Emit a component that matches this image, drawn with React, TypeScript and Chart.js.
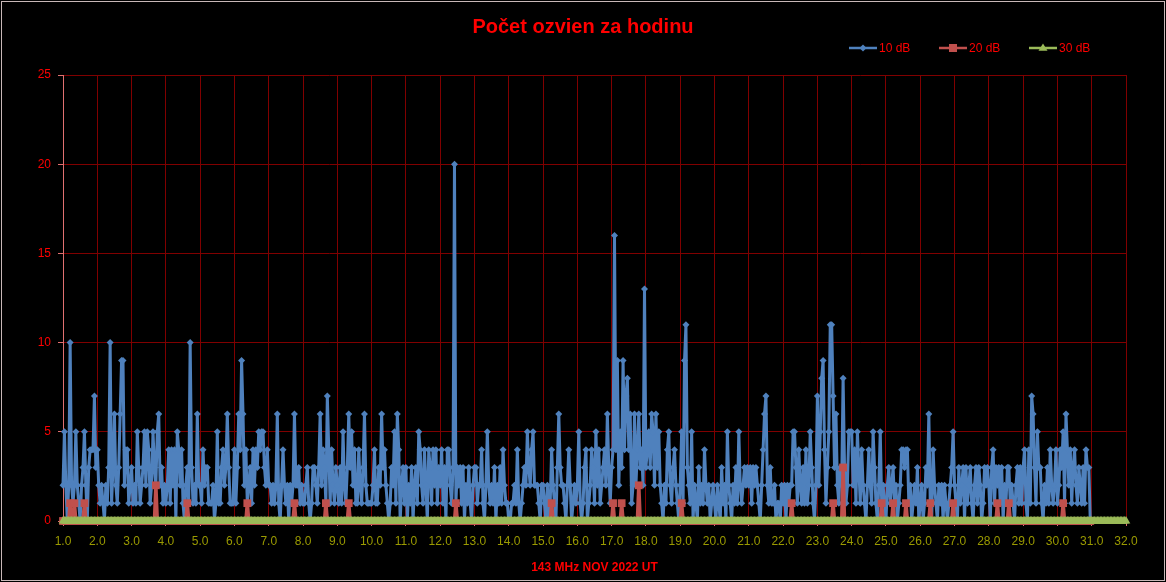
import React, { useEffect, useRef } from "react";
import { Chart, registerables } from "chart.js";

Chart.register(...registerables);

const FONT = "'Liberation Sans', Arial, sans-serif";

const chartTitle = "Počet ozvien za hodinu";
const xAxisTitle = "143 MHz NOV 2022 UT";
const seriesNames = ["10 dB", "20 dB", "30 dB"];
const seriesColors = ["#4f81bd", "#c0504d", "#9bbb59"];
const xRange = [1, 32];
const yRange = [0, 25];
const yStep = 5;
const xStep = 1;
const hoursPerDay = 24;

// hourly echo counts, 10 dB, one row per day (1.0 .. 30.96)
const echo10dB = [
  2, 5, 2, 0, 2, 10, 2, 1, 2, 5, 2, 1, 0, 2, 3, 5, 2, 0, 3, 4, 4, 4, 7, 3,
  4, 2, 1, 2, 1, 0, 2, 1, 3, 10, 1, 3, 6, 2, 1, 3, 6, 9, 9, 2, 4, 4, 1, 2,
  3, 1, 2, 1, 5, 3, 1, 2, 3, 5, 2, 5, 4, 1, 2, 5, 3, 2, 5, 6, 2, 3, 1, 2,
  1, 2, 4, 1, 4, 2, 4, 0, 5, 4, 2, 4, 1, 0, 2, 3, 1, 10, 3, 1, 2, 1, 6, 2,
  2, 1, 4, 2, 3, 3, 1, 1, 1, 2, 0, 1, 5, 1, 1, 3, 4, 2, 3, 6, 3, 1, 1, 1,
  4, 1, 3, 6, 4, 9, 6, 2, 4, 1, 2, 3, 1, 4, 2, 4, 3, 5, 4, 5, 5, 3, 2, 4,
  2, 2, 1, 2, 1, 2, 6, 1, 0, 2, 4, 2, 1, 2, 0, 2, 1, 2, 6, 2, 2, 3, 1, 2,
  1, 1, 2, 3, 1, 0, 1, 3, 3, 2, 1, 3, 6, 2, 4, 3, 1, 7, 4, 1, 4, 2, 1, 3,
  2, 1, 3, 1, 5, 2, 1, 3, 6, 3, 5, 2, 4, 1, 1, 4, 2, 1, 3, 6, 2, 1, 1, 1,
  1, 2, 4, 1, 1, 3, 2, 6, 3, 4, 2, 1, 0, 1, 3, 2, 5, 1, 6, 4, 0, 2, 3, 1,
  3, 0, 2, 1, 3, 0, 2, 3, 1, 5, 4, 2, 1, 4, 2, 0, 4, 3, 1, 4, 2, 4, 1, 3,
  2, 4, 1, 3, 0, 4, 4, 2, 1, 3, 20, 1, 3, 2, 3, 1, 3, 0, 2, 1, 3, 1, 0, 2,
  3, 3, 1, 2, 2, 4, 1, 0, 2, 5, 2, 1, 2, 1, 3, 0, 2, 1, 3, 1, 4, 2, 1, 1,
  0, 0, 1, 1, 2, 1, 4, 1, 0, 1, 2, 3, 2, 5, 3, 2, 4, 5, 2, 2, 2, 1, 0, 2,
  2, 1, 0, 2, 0, 1, 4, 2, 1, 0, 3, 6, 3, 2, 2, 1, 0, 2, 4, 2, 0, 1, 2, 1,
  2, 5, 1, 0, 1, 3, 4, 0, 1, 2, 4, 3, 1, 5, 2, 4, 1, 2, 3, 4, 2, 6, 3, 1,
  3, 4, 16, 4, 9, 2, 5, 3, 9, 4, 7, 8, 4, 6, 1, 2, 6, 2, 4, 6, 3, 4, 2, 13,
  3, 4, 5, 3, 6, 5, 2, 6, 3, 5, 2, 1, 0, 2, 1, 4, 5, 2, 1, 3, 4, 2, 1, 0,
  2, 5, 1, 9, 11, 3, 2, 1, 5, 0, 2, 1, 0, 3, 1, 2, 1, 4, 2, 1, 2, 0, 1, 2,
  1, 0, 2, 1, 0, 3, 1, 2, 0, 5, 2, 1, 0, 2, 1, 3, 1, 5, 2, 1, 2, 3, 2, 3,
  2, 3, 1, 3, 2, 3, 2, 1, 0, 2, 4, 6, 7, 2, 1, 3, 1, 1, 2, 0, 1, 1, 0, 2,
  1, 2, 0, 2, 1, 2, 2, 5, 5, 3, 1, 4, 2, 1, 3, 1, 4, 1, 2, 5, 3, 1, 0, 2,
  7, 2, 5, 8, 9, 4, 1, 3, 5, 11, 11, 7, 3, 6, 2, 1, 3, 2, 8, 3, 1, 2, 5, 5,
  5, 2, 4, 1, 5, 3, 1, 4, 2, 1, 0, 2, 4, 2, 1, 5, 3, 1, 0, 2, 5, 1, 2, 1,
  0, 2, 3, 1, 2, 3, 1, 2, 0, 1, 2, 4, 4, 3, 4, 4, 1, 2, 0, 1, 2, 1, 3, 0,
  1, 2, 0, 1, 3, 2, 6, 1, 0, 4, 2, 1, 0, 2, 1, 2, 0, 2, 1, 0, 1, 2, 3, 5,
  2, 1, 0, 3, 1, 2, 3, 0, 3, 1, 2, 3, 1, 0, 2, 3, 1, 3, 2, 0, 1, 3, 2, 3,
  2, 0, 3, 4, 1, 3, 2, 3, 1, 3, 0, 2, 1, 3, 3, 1, 2, 1, 0, 2, 3, 1, 3, 1,
  3, 4, 1, 0, 4, 1, 7, 6, 3, 1, 5, 3, 3, 1, 0, 2, 1, 3, 1, 4, 2, 1, 2, 4,
  1, 2, 4, 3, 5, 1, 6, 4, 2, 4, 1, 3, 4, 2, 1, 3, 2, 1, 3, 1, 4, 3, 3, 0,
];

// hourly echo counts, 20 dB, one row per day
const echo20dB = [
  0, 0, 0, 0, 0, 1, 0, 0, 1, 0, 0, 0, 0, 0, 0, 1, 0, 0, 0, 0, 0, 0, 0, 0,
  0, 0, 0, 0, 0, 0, 0, 0, 0, 0, 0, 0, 0, 0, 0, 0, 0, 0, 0, 0, 0, 0, 0, 0,
  0, 0, 0, 0, 0, 0, 0, 0, 0, 0, 0, 0, 0, 0, 0, 0, 0, 2, 0, 0, 0, 0, 0, 0,
  0, 0, 0, 0, 0, 0, 0, 0, 0, 0, 0, 0, 0, 0, 0, 1, 0, 0, 0, 0, 0, 0, 0, 0,
  0, 0, 0, 0, 0, 0, 0, 0, 0, 0, 0, 0, 0, 0, 0, 0, 0, 0, 0, 0, 0, 0, 0, 0,
  0, 0, 0, 0, 0, 0, 0, 0, 0, 1, 0, 0, 0, 0, 0, 0, 0, 0, 0, 0, 0, 0, 0, 0,
  0, 0, 0, 0, 0, 0, 0, 0, 0, 0, 0, 0, 0, 0, 0, 0, 0, 0, 1, 0, 0, 0, 0, 0,
  0, 0, 0, 0, 0, 0, 0, 0, 0, 0, 0, 0, 0, 0, 0, 0, 1, 0, 0, 0, 0, 0, 0, 0,
  0, 0, 0, 0, 0, 0, 0, 0, 1, 0, 0, 0, 0, 0, 0, 0, 0, 0, 0, 0, 0, 0, 0, 0,
  0, 0, 0, 0, 0, 0, 0, 0, 0, 0, 0, 0, 0, 0, 0, 0, 0, 0, 0, 0, 0, 0, 0, 0,
  0, 0, 0, 0, 0, 0, 0, 0, 0, 0, 0, 0, 0, 0, 0, 0, 0, 0, 0, 0, 0, 0, 0, 0,
  0, 0, 0, 0, 0, 0, 0, 0, 0, 0, 0, 1, 0, 0, 0, 0, 0, 0, 0, 0, 0, 0, 0, 0,
  0, 0, 0, 0, 0, 0, 0, 0, 0, 0, 0, 0, 0, 0, 0, 0, 0, 0, 0, 0, 0, 0, 0, 0,
  0, 0, 0, 0, 0, 0, 0, 0, 0, 0, 0, 0, 0, 0, 0, 0, 0, 0, 0, 0, 0, 0, 0, 0,
  0, 0, 0, 0, 0, 0, 1, 0, 0, 0, 0, 0, 0, 0, 0, 0, 0, 0, 0, 0, 0, 0, 0, 0,
  0, 0, 0, 0, 0, 0, 0, 0, 0, 0, 0, 0, 0, 0, 0, 0, 0, 0, 0, 0, 0, 0, 0, 0,
  0, 1, 0, 0, 0, 0, 0, 1, 0, 0, 0, 0, 0, 0, 0, 0, 0, 0, 0, 2, 0, 0, 0, 0,
  0, 0, 0, 0, 0, 0, 0, 0, 0, 0, 0, 0, 0, 0, 0, 0, 0, 0, 0, 0, 0, 0, 0, 0,
  0, 1, 0, 0, 0, 0, 0, 0, 0, 0, 0, 0, 0, 0, 0, 0, 0, 0, 0, 0, 0, 0, 0, 0,
  0, 0, 0, 0, 0, 0, 0, 0, 0, 0, 0, 0, 0, 0, 0, 0, 0, 0, 0, 0, 0, 0, 0, 0,
  0, 0, 0, 0, 0, 0, 0, 0, 0, 0, 0, 0, 0, 0, 0, 0, 0, 0, 0, 0, 0, 0, 0, 0,
  0, 0, 0, 0, 0, 0, 1, 0, 0, 0, 0, 0, 0, 0, 0, 0, 0, 0, 0, 0, 0, 0, 0, 0,
  0, 0, 0, 0, 0, 0, 0, 0, 0, 0, 0, 1, 0, 0, 0, 0, 0, 0, 3, 0, 0, 0, 0, 0,
  0, 0, 0, 0, 0, 0, 0, 0, 0, 0, 0, 0, 0, 0, 0, 0, 0, 0, 0, 0, 0, 1, 0, 0,
  0, 0, 0, 0, 0, 1, 0, 0, 0, 0, 0, 0, 0, 0, 1, 0, 0, 0, 0, 0, 0, 0, 0, 0,
  0, 0, 0, 0, 0, 0, 0, 1, 0, 0, 0, 0, 0, 0, 0, 0, 0, 0, 0, 0, 0, 0, 0, 1,
  0, 0, 0, 0, 0, 0, 0, 0, 0, 0, 0, 0, 0, 0, 0, 0, 0, 0, 0, 0, 0, 0, 0, 0,
  0, 0, 0, 0, 0, 0, 1, 0, 0, 0, 0, 0, 0, 0, 1, 0, 0, 0, 0, 0, 0, 0, 0, 0,
  0, 0, 0, 0, 0, 0, 0, 0, 0, 0, 0, 0, 0, 0, 0, 0, 0, 0, 0, 0, 0, 0, 0, 0,
  0, 0, 0, 0, 1, 0, 0, 0, 0, 0, 0, 0, 0, 0, 0, 0, 0, 0, 0, 0, 0, 0, 0, 0,
];

// hourly echo counts, 30 dB, one row per day (1.0 .. 32.0)
const echo30dB = [
  0, 0, 0, 0, 0, 0, 0, 0, 0, 0, 0, 0, 0, 0, 0, 0, 0, 0, 0, 0, 0, 0, 0, 0,
  0, 0, 0, 0, 0, 0, 0, 0, 0, 0, 0, 0, 0, 0, 0, 0, 0, 0, 0, 0, 0, 0, 0, 0,
  0, 0, 0, 0, 0, 0, 0, 0, 0, 0, 0, 0, 0, 0, 0, 0, 0, 0, 0, 0, 0, 0, 0, 0,
  0, 0, 0, 0, 0, 0, 0, 0, 0, 0, 0, 0, 0, 0, 0, 0, 0, 0, 0, 0, 0, 0, 0, 0,
  0, 0, 0, 0, 0, 0, 0, 0, 0, 0, 0, 0, 0, 0, 0, 0, 0, 0, 0, 0, 0, 0, 0, 0,
  0, 0, 0, 0, 0, 0, 0, 0, 0, 0, 0, 0, 0, 0, 0, 0, 0, 0, 0, 0, 0, 0, 0, 0,
  0, 0, 0, 0, 0, 0, 0, 0, 0, 0, 0, 0, 0, 0, 0, 0, 0, 0, 0, 0, 0, 0, 0, 0,
  0, 0, 0, 0, 0, 0, 0, 0, 0, 0, 0, 0, 0, 0, 0, 0, 0, 0, 0, 0, 0, 0, 0, 0,
  0, 0, 0, 0, 0, 0, 0, 0, 0, 0, 0, 0, 0, 0, 0, 0, 0, 0, 0, 0, 0, 0, 0, 0,
  0, 0, 0, 0, 0, 0, 0, 0, 0, 0, 0, 0, 0, 0, 0, 0, 0, 0, 0, 0, 0, 0, 0, 0,
  0, 0, 0, 0, 0, 0, 0, 0, 0, 0, 0, 0, 0, 0, 0, 0, 0, 0, 0, 0, 0, 0, 0, 0,
  0, 0, 0, 0, 0, 0, 0, 0, 0, 0, 0, 0, 0, 0, 0, 0, 0, 0, 0, 0, 0, 0, 0, 0,
  0, 0, 0, 0, 0, 0, 0, 0, 0, 0, 0, 0, 0, 0, 0, 0, 0, 0, 0, 0, 0, 0, 0, 0,
  0, 0, 0, 0, 0, 0, 0, 0, 0, 0, 0, 0, 0, 0, 0, 0, 0, 0, 0, 0, 0, 0, 0, 0,
  0, 0, 0, 0, 0, 0, 0, 0, 0, 0, 0, 0, 0, 0, 0, 0, 0, 0, 0, 0, 0, 0, 0, 0,
  0, 0, 0, 0, 0, 0, 0, 0, 0, 0, 0, 0, 0, 0, 0, 0, 0, 0, 0, 0, 0, 0, 0, 0,
  0, 0, 0, 0, 0, 0, 0, 0, 0, 0, 0, 0, 0, 0, 0, 0, 0, 0, 0, 0, 0, 0, 0, 0,
  0, 0, 0, 0, 0, 0, 0, 0, 0, 0, 0, 0, 0, 0, 0, 0, 0, 0, 0, 0, 0, 0, 0, 0,
  0, 0, 0, 0, 0, 0, 0, 0, 0, 0, 0, 0, 0, 0, 0, 0, 0, 0, 0, 0, 0, 0, 0, 0,
  0, 0, 0, 0, 0, 0, 0, 0, 0, 0, 0, 0, 0, 0, 0, 0, 0, 0, 0, 0, 0, 0, 0, 0,
  0, 0, 0, 0, 0, 0, 0, 0, 0, 0, 0, 0, 0, 0, 0, 0, 0, 0, 0, 0, 0, 0, 0, 0,
  0, 0, 0, 0, 0, 0, 0, 0, 0, 0, 0, 0, 0, 0, 0, 0, 0, 0, 0, 0, 0, 0, 0, 0,
  0, 0, 0, 0, 0, 0, 0, 0, 0, 0, 0, 0, 0, 0, 0, 0, 0, 0, 0, 0, 0, 0, 0, 0,
  0, 0, 0, 0, 0, 0, 0, 0, 0, 0, 0, 0, 0, 0, 0, 0, 0, 0, 0, 0, 0, 0, 0, 0,
  0, 0, 0, 0, 0, 0, 0, 0, 0, 0, 0, 0, 0, 0, 0, 0, 0, 0, 0, 0, 0, 0, 0, 0,
  0, 0, 0, 0, 0, 0, 0, 0, 0, 0, 0, 0, 0, 0, 0, 0, 0, 0, 0, 0, 0, 0, 0, 0,
  0, 0, 0, 0, 0, 0, 0, 0, 0, 0, 0, 0, 0, 0, 0, 0, 0, 0, 0, 0, 0, 0, 0, 0,
  0, 0, 0, 0, 0, 0, 0, 0, 0, 0, 0, 0, 0, 0, 0, 0, 0, 0, 0, 0, 0, 0, 0, 0,
  0, 0, 0, 0, 0, 0, 0, 0, 0, 0, 0, 0, 0, 0, 0, 0, 0, 0, 0, 0, 0, 0, 0, 0,
  0, 0, 0, 0, 0, 0, 0, 0, 0, 0, 0, 0, 0, 0, 0, 0, 0, 0, 0, 0, 0, 0, 0, 0,
  0, 0, 0, 0, 0, 0, 0, 0, 0, 0, 0, 0, 0, 0, 0, 0, 0, 0, 0, 0, 0, 0, 0, 0,
  0,
];

const toPoints = (values: number[]) =>
  values.map((v, i) => ({ x: xRange[0] + i / hoursPerDay, y: v }));

function drawMarker(ctx: CanvasRenderingContext2D, style: string, x: number, y: number, r: number) {
  ctx.beginPath();
  if (style === "rectRot") {
    ctx.moveTo(x, y - r);
    ctx.lineTo(x + r, y);
    ctx.lineTo(x, y + r);
    ctx.lineTo(x - r, y);
  } else if (style === "rect") {
    ctx.rect(x - r, y - r, 2 * r, 2 * r);
  } else {
    ctx.moveTo(x, y - r);
    ctx.lineTo(x + r, y + r * 0.6);
    ctx.lineTo(x - r, y + r * 0.6);
  }
  ctx.closePath();
  ctx.fill();
}

const overlayPlugin = {
  id: "overlay",
  beforeDraw(chart: any) {
    const ctx = chart.ctx as CanvasRenderingContext2D;
    ctx.save();
    ctx.fillStyle = "#000000";
    ctx.fillRect(0, 0, chart.width, chart.height);
    ctx.strokeStyle = "#c8b8b8";
    ctx.lineWidth = 1;
    ctx.strokeRect(1.5, 1.5, chart.width - 3, chart.height - 3);
    ctx.restore();
  },
  afterDraw(chart: any) {
    const ctx = chart.ctx as CanvasRenderingContext2D;
    const { left, right } = chart.chartArea;
    ctx.save();
    ctx.fillStyle = "#ff0000";
    ctx.textAlign = "center";
    ctx.textBaseline = "middle";
    ctx.font = `bold 20px ${FONT}`;
    ctx.fillText(chartTitle, chart.width / 2, 27);
    ctx.font = `bold 12px ${FONT}`;
    ctx.fillText(xAxisTitle, (left + right) / 2, 568);

    // legend
    const styles = ["rectRot", "rect", "triangle"];
    const sizes = [3.5, 4, 4.5];
    const starts = [849, 939, 1029];
    const ly = 48;
    ctx.font = `12px ${FONT}`;
    ctx.textAlign = "left";
    seriesNames.forEach((name, i) => {
      const x0 = starts[i];
      ctx.strokeStyle = seriesColors[i];
      ctx.fillStyle = seriesColors[i];
      ctx.lineWidth = 2.5;
      ctx.beginPath();
      ctx.moveTo(x0, ly);
      ctx.lineTo(x0 + 28, ly);
      ctx.stroke();
      drawMarker(ctx, styles[i], x0 + 14, ly, sizes[i]);
      ctx.fillStyle = "#ff0000";
      ctx.fillText(name, x0 + 30, ly + 1);
    });
    ctx.restore();
  },
};

export default function App() {
  const ref = useRef<HTMLCanvasElement | null>(null);

  useEffect(() => {
    document.body.style.margin = "0";
    document.body.style.background = "#000";
    const canvas = ref.current!;
    const chart = new Chart(canvas, {
      type: "line",
      data: {
        datasets: [
          {
            label: seriesNames[0],
            data: toPoints(echo10dB),
            borderColor: seriesColors[0],
            backgroundColor: seriesColors[0],
            borderWidth: 3,
            pointStyle: "rectRot",
            pointRadius: 3.5,
            pointBorderWidth: 0,
            pointBackgroundColor: seriesColors[0],
            tension: 0,
            clip: false,
            order: 3,
          },
          {
            label: seriesNames[1],
            data: toPoints(echo20dB),
            borderColor: seriesColors[1],
            backgroundColor: seriesColors[1],
            borderWidth: 3.5,
            pointStyle: "rect",
            pointRadius: 5.5,
            pointBorderWidth: 0,
            pointBackgroundColor: seriesColors[1],
            tension: 0,
            clip: false,
            order: 2,
          },
          {
            label: seriesNames[2],
            data: toPoints(echo30dB),
            borderColor: seriesColors[2],
            backgroundColor: seriesColors[2],
            borderWidth: 5,
            pointStyle: "triangle",
            pointRadius: 5,
            pointBorderWidth: 0,
            pointBackgroundColor: seriesColors[2],
            tension: 0,
            clip: false,
            order: 1,
          },
        ],
      },
      options: {
        animation: false,
        responsive: false,
        maintainAspectRatio: false,
        events: [],
        layout: { padding: { top: 75, right: 40, left: 0, bottom: 0 } },
        plugins: {
          legend: { display: false },
          title: { display: false },
          tooltip: { enabled: false },
        },
        scales: {
          x: {
            type: "linear",
            min: xRange[0],
            max: xRange[1],
            afterFit: (scale: any) => {
              scale.height = 61;
            },
            ticks: {
              stepSize: xStep,
              autoSkip: false,
              maxRotation: 0,
              color: "#9a9a00",
              font: { family: FONT, size: 12 },
              padding: 8,
              callback: (v: any) => Number(v).toFixed(1),
            },
            grid: {
              color: "#800000",
              lineWidth: 1,
              drawTicks: true,
              tickLength: 5,
              tickColor: "#e07070",
            },
            border: { display: true, color: "#e07070", width: 1 },
          },
          y: {
            min: yRange[0],
            max: yRange[1],
            afterFit: (scale: any) => {
              scale.width = 63;
            },
            ticks: {
              stepSize: yStep,
              color: "#ff0000",
              font: { family: FONT, size: 12 },
              padding: 7,
            },
            grid: {
              color: "#800000",
              lineWidth: 1,
              drawTicks: true,
              tickLength: 5,
              tickColor: "#e07070",
            },
            border: { display: true, color: "#e07070", width: 1 },
          },
        },
      },
      plugins: [overlayPlugin],
    });
    return () => chart.destroy();
  }, []);

  return (
    <div style={{ width: 1166, height: 582, background: "#000" }}>
      <canvas ref={ref} width={1166} height={582} style={{ display: "block" }} />
    </div>
  );
}
